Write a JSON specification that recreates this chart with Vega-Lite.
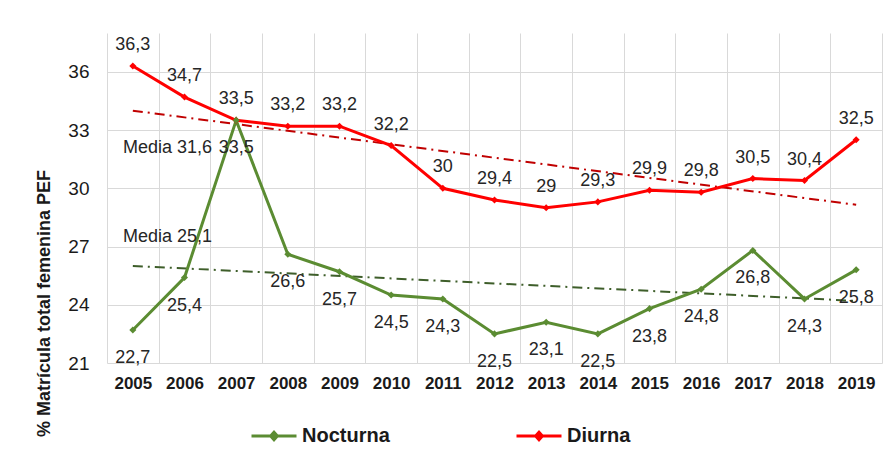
{
  "$schema": "https://vega.github.io/schema/vega-lite/v6.json",
  "width": 775,
  "height": 330,
  "autosize": {"type": "none"},
  "padding": {"left": 107, "top": 33, "right": 11, "bottom": 90},
  "background": "white",
  "config": {
    "font": "Liberation Sans",
    "view": {"stroke": null}
  },
  "datasets": {
    "series": [
      {"series": "Diurna", "year": 2005, "value": 36.3, "label": "36,3"},
      {"series": "Diurna", "year": 2006, "value": 34.7, "label": "34,7"},
      {"series": "Diurna", "year": 2007, "value": 33.5, "label": "33,5"},
      {"series": "Diurna", "year": 2008, "value": 33.2, "label": "33,2"},
      {"series": "Diurna", "year": 2009, "value": 33.2, "label": "33,2"},
      {"series": "Diurna", "year": 2010, "value": 32.2, "label": "32,2"},
      {"series": "Diurna", "year": 2011, "value": 30.0, "label": "30"},
      {"series": "Diurna", "year": 2012, "value": 29.4, "label": "29,4"},
      {"series": "Diurna", "year": 2013, "value": 29.0, "label": "29"},
      {"series": "Diurna", "year": 2014, "value": 29.3, "label": "29,3"},
      {"series": "Diurna", "year": 2015, "value": 29.9, "label": "29,9"},
      {"series": "Diurna", "year": 2016, "value": 29.8, "label": "29,8"},
      {"series": "Diurna", "year": 2017, "value": 30.5, "label": "30,5"},
      {"series": "Diurna", "year": 2018, "value": 30.4, "label": "30,4"},
      {"series": "Diurna", "year": 2019, "value": 32.5, "label": "32,5"},
      {"series": "Nocturna", "year": 2005, "value": 22.7, "label": "22,7"},
      {"series": "Nocturna", "year": 2006, "value": 25.4, "label": "25,4"},
      {"series": "Nocturna", "year": 2007, "value": 33.5, "label": "33,5"},
      {"series": "Nocturna", "year": 2008, "value": 26.6, "label": "26,6"},
      {"series": "Nocturna", "year": 2009, "value": 25.7, "label": "25,7"},
      {"series": "Nocturna", "year": 2010, "value": 24.5, "label": "24,5"},
      {"series": "Nocturna", "year": 2011, "value": 24.3, "label": "24,3"},
      {"series": "Nocturna", "year": 2012, "value": 22.5, "label": "22,5"},
      {"series": "Nocturna", "year": 2013, "value": 23.1, "label": "23,1"},
      {"series": "Nocturna", "year": 2014, "value": 22.5, "label": "22,5"},
      {"series": "Nocturna", "year": 2015, "value": 23.8, "label": "23,8"},
      {"series": "Nocturna", "year": 2016, "value": 24.8, "label": "24,8"},
      {"series": "Nocturna", "year": 2017, "value": 26.8, "label": "26,8"},
      {"series": "Nocturna", "year": 2018, "value": 24.3, "label": "24,3"},
      {"series": "Nocturna", "year": 2019, "value": 25.8, "label": "25,8"}
    ],
    "trend": [
      {"series": "Diurna", "year": 2005, "value": 34.0},
      {"series": "Diurna", "year": 2019, "value": 29.15},
      {"series": "Nocturna", "year": 2005, "value": 26.0},
      {"series": "Nocturna", "year": 2019, "value": 24.2}
    ],
    "media": [
      {"year": 2006, "value": 32.1, "label": "Media 31,6"},
      {"year": 2006, "value": 27.5, "label": "Media 25,1"}
    ]
  },
  "encoding": {
    "x": {
      "field": "year",
      "type": "ordinal",
      "scale": {"type": "band", "paddingInner": 0, "paddingOuter": 0,
        "domain": [2005, 2006, 2007, 2008, 2009, 2010, 2011, 2012, 2013, 2014, 2015, 2016, 2017, 2018, 2019]},
      "axis": {
        "title": null,
        "tickBand": "extent",
        "grid": true,
        "gridColor": "#d9d9d9",
        "gridWidth": 1,
        "ticks": false,
        "domain": false,
        "labelAngle": 0,
        "labelFontSize": 17,
        "labelFontWeight": "bold",
        "labelColor": "#1a1a1a",
        "labelPadding": 12
      }
    },
    "y": {
      "field": "value",
      "type": "quantitative",
      "scale": {"domain": [21, 38], "nice": false, "zero": false},
      "axis": {
        "values": [21, 24, 27, 30, 33, 36],
        "grid": true,
        "gridColor": "#d9d9d9",
        "ticks": false,
        "domain": false,
        "labelFontSize": 19,
        "labelColor": "#1a1a1a",
        "labelPadding": 18,
        "title": "% Matrícula total femenina PEF",
        "titleFontSize": 18,
        "titleFontWeight": "bold",
        "titleColor": "#1a1a1a",
        "titlePadding": 14,
        "titleY": 270
      }
    }
  },
  "layer": [
    {
      "data": {"name": "trend"},
      "transform": [{"filter": "datum.series === 'Diurna'"}],
      "mark": {"type": "line", "color": "#C00000", "strokeWidth": 2, "strokeDash": [10, 5, 2, 5]}
    },
    {
      "data": {"name": "trend"},
      "transform": [{"filter": "datum.series === 'Nocturna'"}],
      "mark": {"type": "line", "color": "#3E5E2A", "strokeWidth": 2, "strokeDash": [10, 5, 2, 5]}
    },
    {
      "data": {"name": "series"},
      "mark": {"type": "line", "strokeWidth": 3, "point": {"shape": "diamond", "size": 50, "filled": true}},
      "encoding": {
        "color": {
          "field": "series",
          "type": "nominal",
          "scale": {"domain": ["Nocturna", "Diurna"], "range": ["#5B8C32", "#FF0000"]},
          "legend": {
            "title": null,
            "orient": "none",
            "direction": "horizontal",
            "legendX": 143,
            "legendY": 379,
            "symbolType": "M-1,0L1,0M0,-0.17L0.15,0L0,0.17L-0.15,0Z",
            "symbolSize": 2025,
            "symbolStrokeWidth": 3,
            "labelFontSize": 20,
            "labelFontWeight": "bold",
            "labelColor": "#1a1a1a",
            "labelOffset": 4,
            "columnPadding": 120
          }
        }
      }
    },
    {
      "data": {"name": "series"},
      "transform": [{"filter": "datum.series === 'Diurna'"}],
      "mark": {"type": "text", "dy": -21, "fontSize": 18, "color": "#262626"},
      "encoding": {"text": {"field": "label"}}
    },
    {
      "data": {"name": "series"},
      "transform": [{"filter": "datum.series === 'Nocturna'"}],
      "mark": {"type": "text", "dy": 28, "fontSize": 18, "color": "#262626"},
      "encoding": {"text": {"field": "label"}}
    },
    {
      "data": {"name": "media"},
      "mark": {"type": "text", "dx": -17, "fontSize": 18, "color": "#262626"},
      "encoding": {"text": {"field": "label"}}
    }
  ]
}
